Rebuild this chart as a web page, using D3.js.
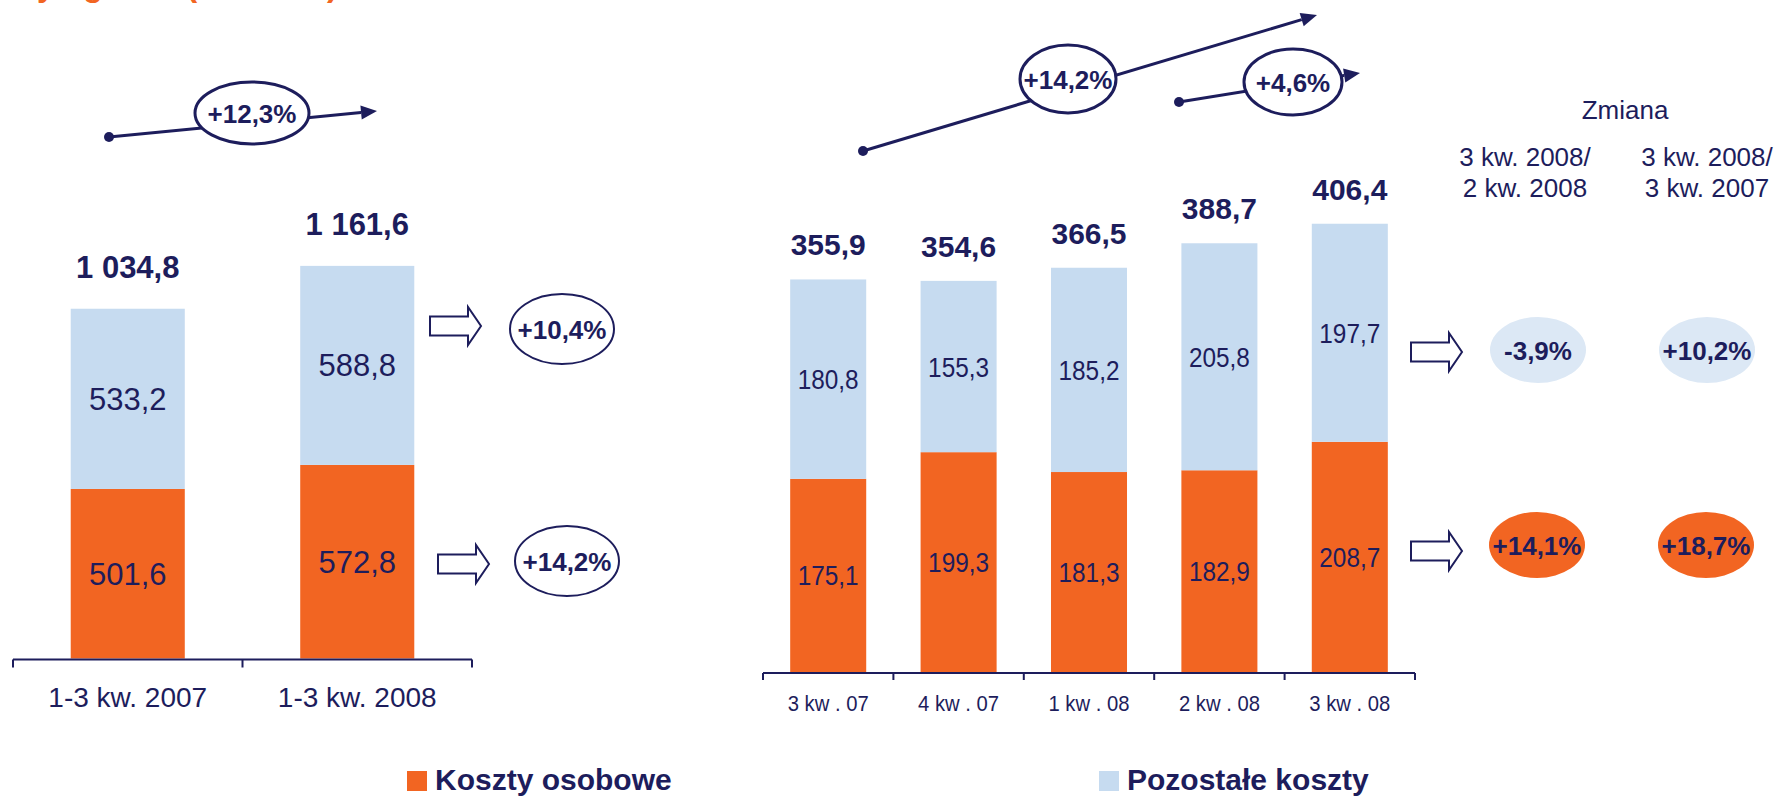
<!DOCTYPE html>
<html>
<head>
<meta charset="utf-8">
<script src="https://cdn.jsdelivr.net/npm/d3@7"></script>
<style>
  body { margin: 0; background: #fff; }
  svg { display: block; }
  text { font-family: "Liberation Sans", Arial, Helvetica, sans-serif; }
</style>
</head>
<body>
<svg id="chart" width="1778" height="798"></svg>
<script>
// ---- Data: cumulative 1-3 quarters ----
const ytdCategories = ["1-3 kw. 2007", "1-3 kw. 2008"];
const ytdStaff  = [501.6, 572.8];
const ytdOther  = [533.2, 588.8];
const ytdTotals = [1034.8, 1161.6];
const ytdGrowth = "+12,3%";
const ytdChanges = ["+10,4%", "+14,2%"];      // other costs, staff costs

// ---- Data: quarterly ----
const qCategories = ["3 kw . 07", "4 kw . 07", "1 kw . 08", "2 kw . 08", "3 kw . 08"];
const qStaff  = [175.1, 199.3, 181.3, 182.9, 208.7];
const qOther  = [180.8, 155.3, 185.2, 205.8, 197.7];
const qTotals = [355.9, 354.6, 366.5, 388.7, 406.4];
const qGrowthYoY = "+14,2%";
const qGrowthQoQ = "+4,6%";
const qoqChanges = ["-3,9%", "+14,1%"];        // other costs, staff costs
const yoyChanges = ["+10,2%", "+18,7%"];
const changeHeader = "Zmiana";
const changeColumns = [["3 kw. 2008/", "2 kw. 2008"], ["3 kw. 2008/", "3 kw. 2007"]];

const seriesNames = ["Koszty osobowe", "Pozostałe koszty"];
const titleText = "Koszty ogółem (mln PLN)";

// ---- Style ----
const NAVY = "#1d1d5c";
const ORANGE = "#f26522";
const LIGHT = "#c6dbf0";
const LIGHTER = "#dce8f5";
const seriesColors = [ORANGE, LIGHT];

const pl = d3.formatLocale({ decimal: ",", thousands: " ", grouping: [3], currency: ["", " zł"] });
const fmt = pl.format(",.1f");

const svg = d3.select("#chart");
svg.append("rect").attr("width", 1778).attr("height", 798).attr("fill", "#fff");

function condense(sel, f) {
  sel.each(function () {
    const w = this.getComputedTextLength();
    this.setAttribute("textLength", w * f);
    this.setAttribute("lengthAdjust", "spacingAndGlyphs");
  });
}

// Title line (clipped by the top edge)
svg.append("text").attr("x", -50).attr("y", -4)
  .attr("font-size", 32).attr("font-weight", "bold").attr("fill", ORANGE)
  .text(titleText);

// Generic stacked bar panel
function panel(cfg) {
  const rows = cfg.categories.map((c, i) => ({ cat: c, staff: cfg.staff[i], other: cfg.other[i], total: cfg.totals[i] }));
  const stack = d3.stack().keys(["staff", "other"])(rows);
  const x = d3.scaleBand().domain(cfg.categories).range(cfg.xRange)
    .paddingInner(cfg.pad).paddingOuter(cfg.pad / 2);
  const y = d3.scaleLinear().domain([0, 1000]).range([cfg.base, cfg.base - cfg.pxPerUnit * 1000]);
  const g = svg.append("g");

  const layers = g.selectAll("g.layer").data(stack).join("g")
    .attr("class", "layer").attr("fill", (d, i) => seriesColors[i]);
  layers.selectAll("rect").data(d => d).join("rect")
    .attr("x", d => x(d.data.cat))
    .attr("width", x.bandwidth())
    .attr("y", d => y(d[1]))
    .attr("height", d => y(d[0]) - y(d[1]));

  // segment values
  stack.forEach(layer => {
    const t = g.selectAll(null).data(layer).join("text")
      .attr("x", d => x(d.data.cat) + x.bandwidth() / 2)
      .attr("y", d => (y(d[0]) + y(d[1])) / 2 + cfg.innerShift)
      .attr("text-anchor", "middle")
      .attr("font-size", cfg.innerSize)
      .attr("fill", NAVY)
      .text(d => fmt(d[1] - d[0]));
    if (cfg.innerCondense) condense(t, cfg.innerCondense);
  });

  // totals
  g.selectAll(null).data(rows).join("text")
    .attr("x", d => x(d.cat) + x.bandwidth() / 2)
    .attr("y", d => y(d.total) - cfg.totalGap)
    .attr("text-anchor", "middle")
    .attr("font-size", cfg.totalSize).attr("font-weight", "bold")
    .attr("fill", NAVY)
    .text(d => fmt(d.total));

  // baseline axis with ticks at category boundaries
  const axisY = cfg.base + 1;
  const [r0, r1] = cfg.xRange;
  g.append("line").attr("x1", r0).attr("x2", r1).attr("y1", axisY).attr("y2", axisY)
    .attr("stroke", NAVY).attr("stroke-width", 2);
  const bounds = cfg.categories.map(c => x(c) - x.step() * x.paddingInner() / 2).concat([r1]);
  g.selectAll(null).data(bounds).join("line")
    .attr("x1", d => d).attr("x2", d => d)
    .attr("y1", axisY).attr("y2", axisY + cfg.tickLen)
    .attr("stroke", NAVY).attr("stroke-width", 2);

  const cl = g.selectAll(null).data(cfg.categories).join("text")
    .attr("x", d => x(d) + x.bandwidth() / 2)
    .attr("y", cfg.catY)
    .attr("text-anchor", "middle")
    .attr("font-size", cfg.catSize)
    .attr("fill", NAVY)
    .text(d => d);
  if (cfg.catCondense) condense(cl, cfg.catCondense);
  return { x, y };
}

panel({
  categories: ytdCategories, staff: ytdStaff, other: ytdOther, totals: ytdTotals,
  xRange: [13, 472], pad: 0.503, base: 658.5, pxPerUnit: 0.338,
  innerSize: 31, innerShift: 11, totalSize: 31, totalGap: 31,
  tickLen: 8, catY: 707, catSize: 28
});

panel({
  categories: qCategories, staff: qStaff, other: qOther, totals: qTotals,
  xRange: [763, 1415], pad: 0.417, base: 672, pxPerUnit: 1.103,
  innerSize: 28, innerShift: 10, innerCondense: 0.87, totalSize: 30, totalGap: 24,
  tickLen: 7, catY: 711, catSize: 22, catCondense: 0.92
});

// ---- Annotations ----
function growthArrow(dot, tip, ell, label) {
  const g = svg.append("g");
  const ang = Math.atan2(tip[1] - dot[1], tip[0] - dot[0]);
  const hl = 16, hw = 7;
  const bx = tip[0] - hl * Math.cos(ang), by = tip[1] - hl * Math.sin(ang);
  g.append("line").attr("x1", dot[0]).attr("y1", dot[1]).attr("x2", bx).attr("y2", by)
    .attr("stroke", NAVY).attr("stroke-width", 3);
  g.append("polygon").attr("fill", NAVY).attr("points", [
    tip,
    [bx + hw * Math.sin(ang), by - hw * Math.cos(ang)],
    [bx - hw * Math.sin(ang), by + hw * Math.cos(ang)]
  ].map(p => p.join(",")).join(" "));
  g.append("circle").attr("cx", dot[0]).attr("cy", dot[1]).attr("r", 5).attr("fill", NAVY);
  g.append("ellipse").attr("cx", ell[0]).attr("cy", ell[1]).attr("rx", ell[2]).attr("ry", ell[3])
    .attr("fill", "#fff").attr("stroke", NAVY).attr("stroke-width", 3);
  g.append("text").attr("x", ell[0]).attr("y", ell[1] + 10).attr("text-anchor", "middle")
    .attr("font-size", 26).attr("font-weight", "bold").attr("fill", NAVY).text(label);
}
growthArrow([109, 137], [377, 111], [252, 113, 57, 31], ytdGrowth);
growthArrow([863, 151], [1317, 15], [1068, 79, 48, 34], qGrowthYoY);
growthArrow([1179, 102], [1360, 73], [1293, 82, 49, 33], qGrowthQoQ);

function blockArrow(x0, cy) {
  const L = 51, head = 13, sh = 9.5, hh = 19;
  svg.append("polygon")
    .attr("points", [[x0, cy - sh], [x0 + L - head, cy - sh], [x0 + L - head, cy - hh], [x0 + L, cy],
      [x0 + L - head, cy + hh], [x0 + L - head, cy + sh], [x0, cy + sh]].map(p => p.join(",")).join(" "))
    .attr("fill", "#fff").attr("stroke", NAVY).attr("stroke-width", 2);
}

function badge(cx, cy, rx, ry, fill, stroke, label) {
  svg.append("ellipse").attr("cx", cx).attr("cy", cy).attr("rx", rx).attr("ry", ry)
    .attr("fill", fill).attr("stroke", stroke || "none").attr("stroke-width", 2);
  svg.append("text").attr("x", cx).attr("y", cy + 9.5).attr("text-anchor", "middle")
    .attr("font-size", 26).attr("font-weight", "bold").attr("fill", NAVY).text(label);
}

// cumulative changes (other costs on top, staff costs below)
blockArrow(430, 326);
blockArrow(438, 564);
badge(562, 329, 52, 35, "#fff", NAVY, ytdChanges[0]);
badge(567, 561, 52, 35, "#fff", NAVY, ytdChanges[1]);

// quarterly change table
blockArrow(1411, 352);
blockArrow(1411, 551);
badge(1538, 350, 48, 33, LIGHTER, null, qoqChanges[0]);
badge(1707, 350, 48, 33, LIGHTER, null, yoyChanges[0]);
badge(1537, 545, 48, 33, ORANGE, null, qoqChanges[1]);
badge(1706, 545, 48, 33, ORANGE, null, yoyChanges[1]);

svg.append("text").attr("x", 1625).attr("y", 119).attr("text-anchor", "middle")
  .attr("font-size", 26).attr("fill", NAVY).text(changeHeader);
[1525, 1707].forEach((cx, i) => {
  changeColumns[i].forEach((line, j) => {
    svg.append("text").attr("x", cx).attr("y", 166 + j * 31).attr("text-anchor", "middle")
      .attr("font-size", 26).attr("fill", NAVY).text(line);
  });
});

// ---- Legend ----
const legendX = [407, 1099];
seriesNames.forEach((name, i) => {
  svg.append("rect").attr("x", legendX[i]).attr("y", 771).attr("width", 20).attr("height", 20)
    .attr("fill", seriesColors[i]);
  svg.append("text").attr("x", legendX[i] + 28).attr("y", 790)
    .attr("font-size", 30).attr("font-weight", "bold").attr("fill", NAVY).text(name);
});
</script>
</body>
</html>
